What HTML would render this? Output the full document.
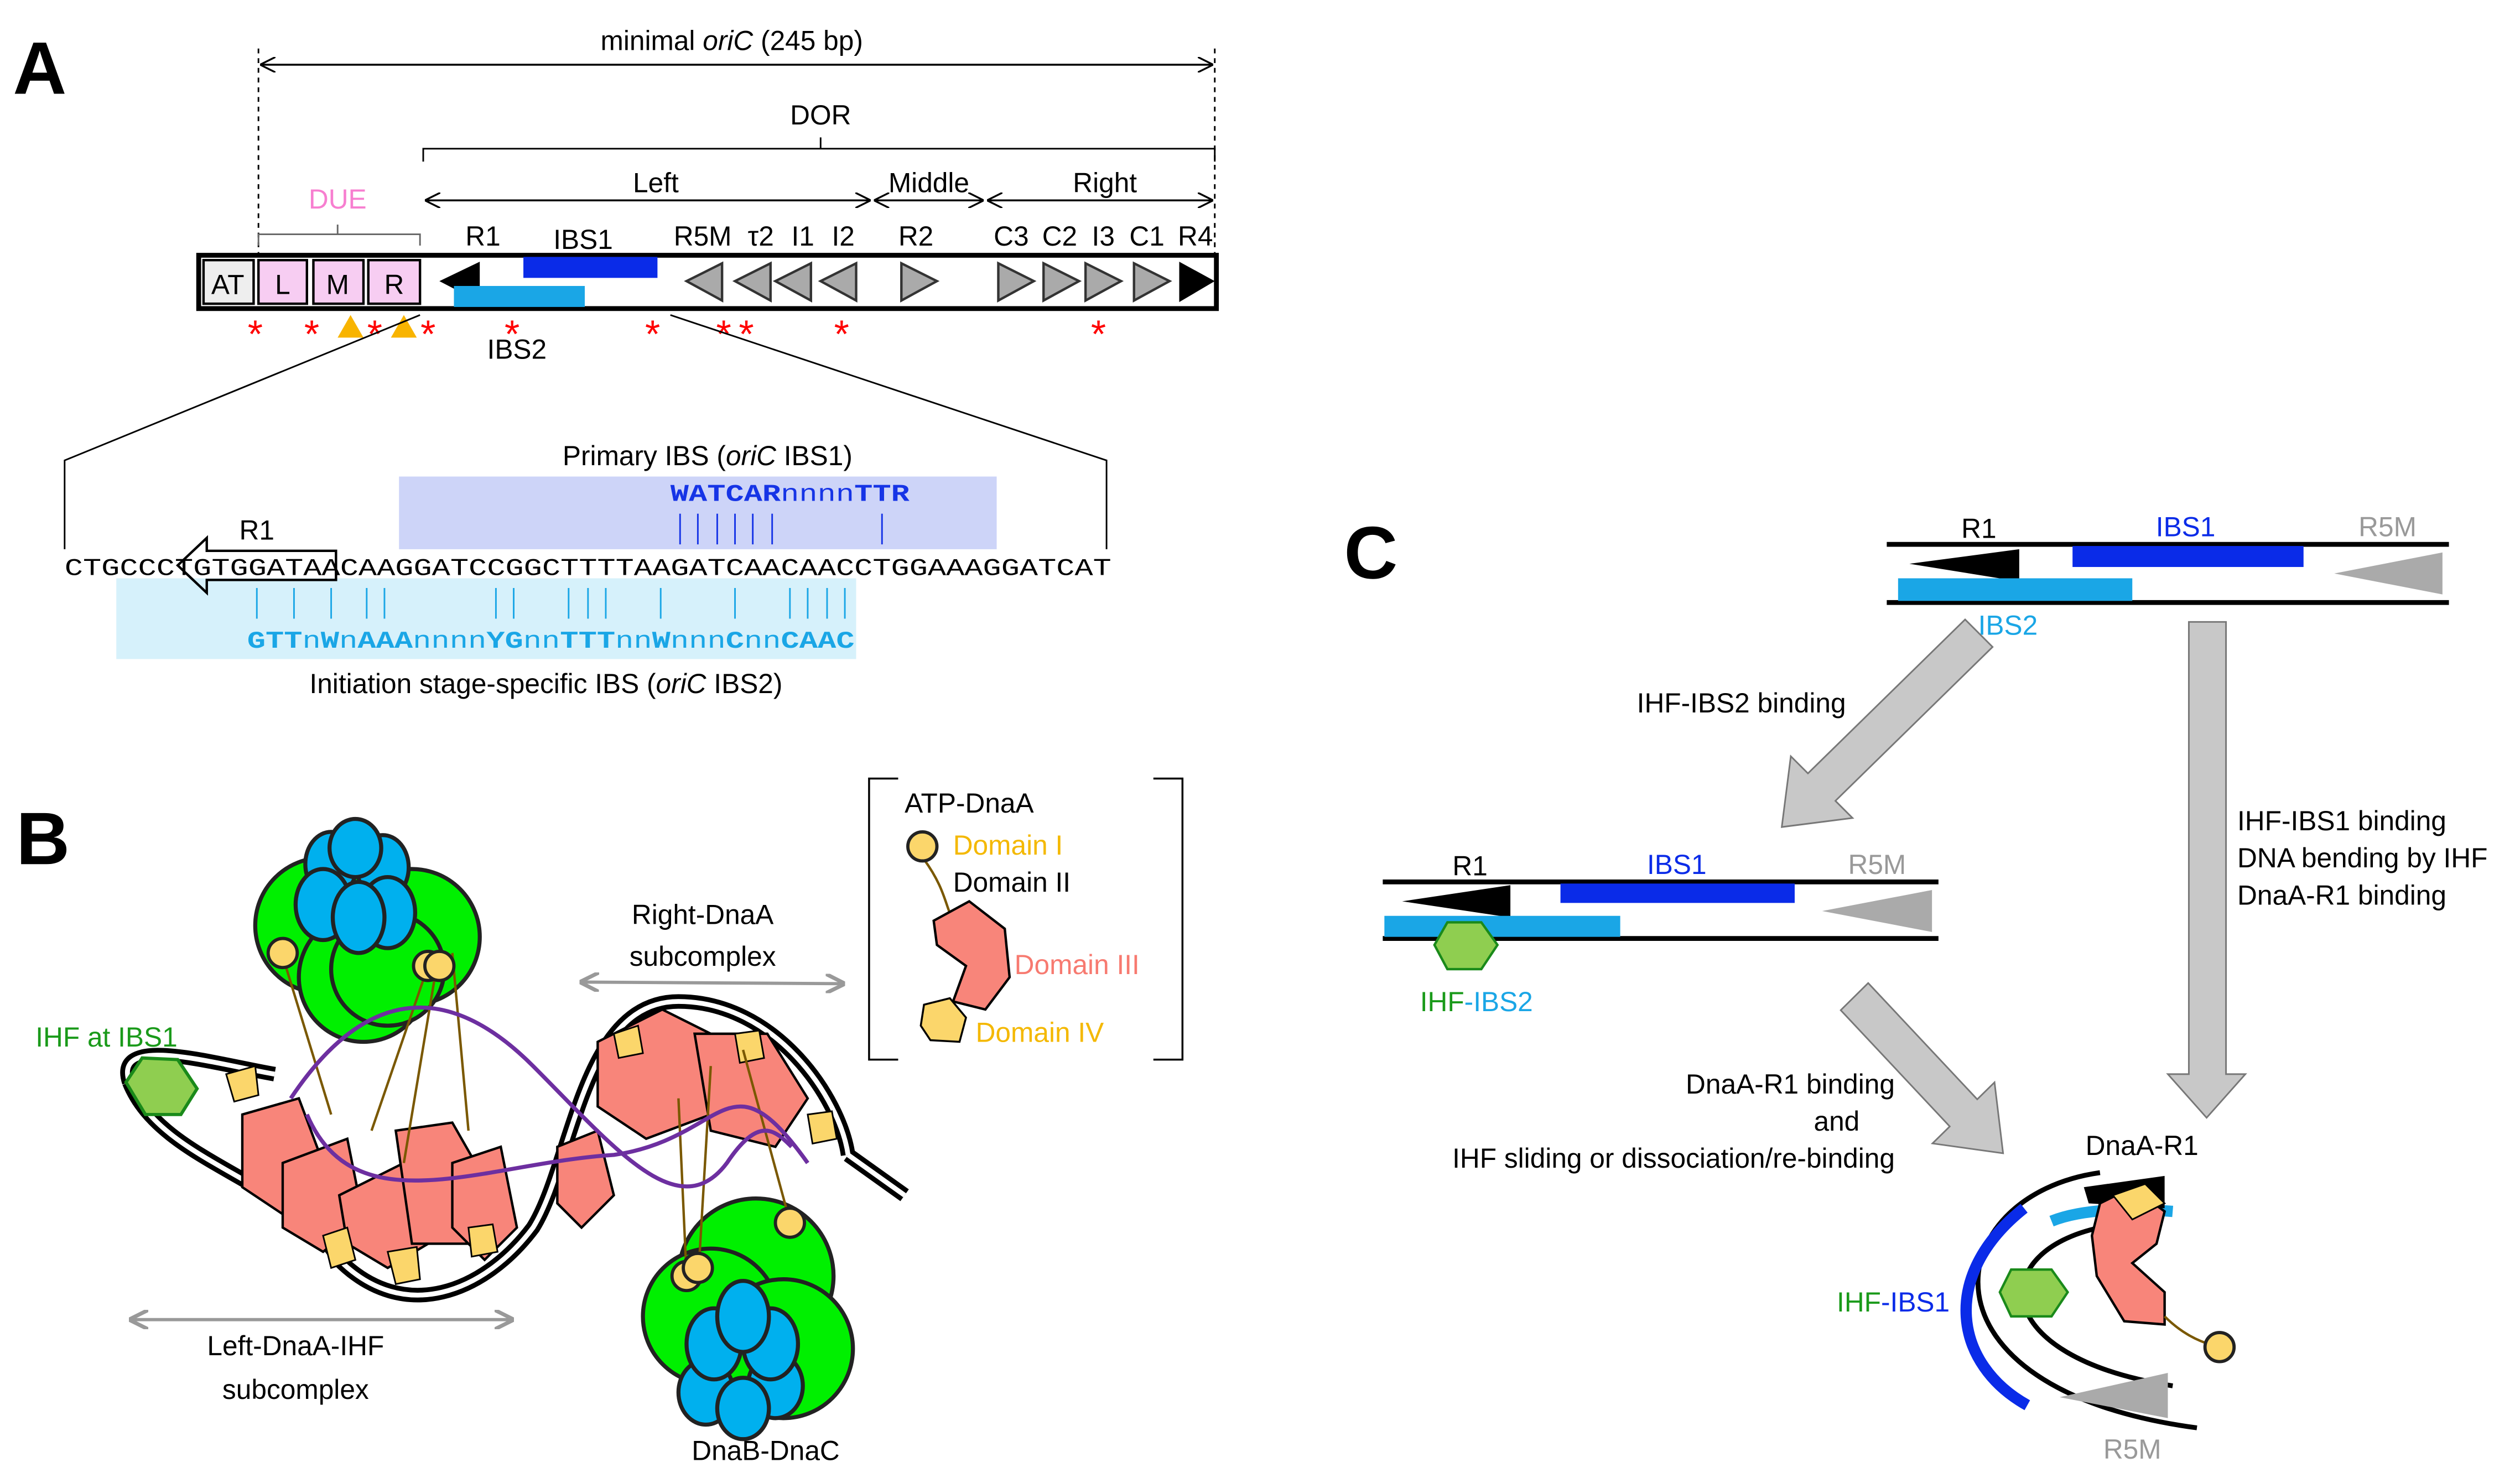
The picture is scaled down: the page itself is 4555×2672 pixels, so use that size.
<!DOCTYPE html>
<html><head><meta charset="utf-8"><style>
html,body{margin:0;padding:0;background:#fff;}
svg{display:block;}
text{font-family:"Liberation Sans",sans-serif;}
.m{font-family:"Liberation Mono",monospace;}
</style></head><body>
<svg width="4555" height="2672" viewBox="0 0 1560 915" xmlns="http://www.w3.org/2000/svg">
<defs>
<marker id="ah" viewBox="0 0 10 10" refX="10" refY="5" markerWidth="8" markerHeight="8" orient="auto-start-reverse"><path d="M0,0 L10,5 L0,10" fill="none" stroke="#000" stroke-width="1.2"/></marker>
<marker id="gh" viewBox="0 0 10 10" refX="9" refY="5" markerWidth="6" markerHeight="6" orient="auto-start-reverse"><path d="M0,0 L10,5 L0,10" fill="none" stroke="#999" stroke-width="2"/></marker>
</defs>
<rect width="1560" height="915" fill="#fff"/>
<!-- Panel A -->
<text x="8" y="58" font-size="46" font-weight="bold">A</text>
<text x="453" y="31" font-size="17" text-anchor="middle">minimal <tspan font-style="italic">oriC</tspan> (245 bp)</text>
<line x1="161" y1="40" x2="751" y2="40" stroke="#000" stroke-width="1.2" marker-start="url(#ah)" marker-end="url(#ah)"/>
<line x1="160" y1="30" x2="160" y2="158" stroke="#000" stroke-dasharray="3,3"/>
<line x1="752" y1="30" x2="752" y2="158" stroke="#000" stroke-dasharray="3,3"/>
<text x="508" y="77" font-size="17" text-anchor="middle">DOR</text>
<path d="M262,100 V92 H752 V100 M508,92 V85" fill="none" stroke="#000" stroke-width="1"/>
<line x1="263" y1="124" x2="539" y2="124" stroke="#000" stroke-width="1.2" marker-start="url(#ah)" marker-end="url(#ah)"/>
<line x1="541" y1="124" x2="609" y2="124" stroke="#000" stroke-width="1.2" marker-start="url(#ah)" marker-end="url(#ah)"/>
<line x1="611" y1="124" x2="751" y2="124" stroke="#000" stroke-width="1.2" marker-start="url(#ah)" marker-end="url(#ah)"/>
<text x="406" y="119" font-size="17" text-anchor="middle">Left</text>
<text x="575" y="119" font-size="17" text-anchor="middle">Middle</text>
<text x="684" y="119" font-size="17" text-anchor="middle">Right</text>
<text x="209" y="129" font-size="17" text-anchor="middle" fill="#f77fd0">DUE</text>
<path d="M160,152 V145 H260 V152 M209,145 V139" fill="none" stroke="#666" stroke-width="1"/>
<rect x="123" y="158" width="630" height="33" fill="#fff" stroke="#000" stroke-width="3"/>
<rect x="126" y="161" width="31" height="27" fill="#eee" stroke="#000" stroke-width="1.5"/>
<rect x="160" y="161" width="30" height="27" fill="#f7cdf2" stroke="#000" stroke-width="1.5"/>
<rect x="194" y="161" width="31" height="27" fill="#f7cdf2" stroke="#000" stroke-width="1.5"/>
<rect x="228" y="161" width="32" height="27" fill="#f7cdf2" stroke="#000" stroke-width="1.5"/>
<g font-size="17" text-anchor="middle"><text x="141" y="182">AT</text><text x="175" y="182">L</text><text x="209" y="182">M</text><text x="244" y="182">R</text></g>
<polygon points="272,174 297,162 297,187" fill="#000"/>
<rect x="324" y="159" width="83" height="13" fill="#0a2be8"/>
<rect x="281" y="177" width="81" height="13" fill="#1aa6e6"/>
<g fill="#aaa" stroke="#333" stroke-width="1.5">
<polygon points="425,174 447,163 447,186"/><polygon points="455,174 477,163 477,186"/><polygon points="480,174 502,163 502,186"/><polygon points="508,174 530,163 530,186"/>
<polygon points="580,174 558,163 558,186"/><polygon points="640,174 618,163 618,186"/><polygon points="668,174 646,163 646,186"/><polygon points="694,174 672,163 672,186"/><polygon points="724,174 702,163 702,186"/>
</g>
<polygon points="752,174 730,162 730,187" fill="#000"/>
<g font-size="17" text-anchor="middle"><text x="299" y="152">R1</text><text x="361" y="154">IBS1</text><text x="435" y="152">R5M</text><text x="471" y="152">τ2</text><text x="497" y="152">I1</text><text x="522" y="152">I2</text><text x="567" y="152">R2</text><text x="626" y="152">C3</text><text x="656" y="152">C2</text><text x="683" y="152">I3</text><text x="710" y="152">C1</text><text x="740" y="152">R4</text></g>
<g fill="#f00" font-size="24" text-anchor="middle"><text x="158" y="215">*</text><text x="193" y="215">*</text><text x="232" y="215">*</text><text x="265" y="215">*</text><text x="317" y="215">*</text><text x="404" y="215">*</text><text x="448" y="215">*</text><text x="462" y="215">*</text><text x="521" y="215">*</text><text x="680" y="215">*</text></g>
<polygon points="217,195 209,209 225,209" fill="#f8b400"/><polygon points="250,195 242,209 258,209" fill="#f8b400"/>
<text x="320" y="222" font-size="17" text-anchor="middle">IBS2</text>
<polyline points="260,195 40,285 40,340" fill="none" stroke="#000"/>
<polyline points="415,195 685,285 685,340" fill="none" stroke="#000"/>
<rect x="247" y="295" width="370" height="45" fill="#cdd4f8"/>
<rect x="72" y="358" width="458" height="50" fill="#d6f1fb"/>
<text x="438" y="288" font-size="17" text-anchor="middle">Primary IBS (<tspan font-style="italic">oriC</tspan> IBS1)</text>
<text x="415" y="310" class="m" font-size="15" font-weight="bold" fill="#1634e6" textLength="148" lengthAdjust="spacingAndGlyphs">WATCAR<tspan font-weight="normal">nnnn</tspan>TTR</text>
<g stroke="#1634e6" stroke-width="1"><line x1="421" y1="318" x2="421" y2="337"/><line x1="432" y1="318" x2="432" y2="337"/><line x1="444" y1="318" x2="444" y2="337"/><line x1="455" y1="318" x2="455" y2="337"/><line x1="466" y1="318" x2="466" y2="337"/><line x1="478" y1="318" x2="478" y2="337"/><line x1="546" y1="318" x2="546" y2="337"/></g>
<text x="40" y="356" class="m" font-size="15" textLength="648" lengthAdjust="spacingAndGlyphs">CTGCCCTGTGGATAACAAGGATCCGGCTTTTAAGATCAACAACCTGGAAAGGATCAT</text>
<polygon points="110,350 128,333 128,341 208,341 208,359 128,359 128,367" fill="none" stroke="#000" stroke-width="1.5"/>
<text x="159" y="334" font-size="17" text-anchor="middle">R1</text>
<g stroke="#1aa6e6" stroke-width="1"><line x1="159" y1="364" x2="159" y2="383"/><line x1="182" y1="364" x2="182" y2="383"/><line x1="205" y1="364" x2="205" y2="383"/><line x1="227" y1="364" x2="227" y2="383"/><line x1="238" y1="364" x2="238" y2="383"/><line x1="307" y1="364" x2="307" y2="383"/><line x1="318" y1="364" x2="318" y2="383"/><line x1="352" y1="364" x2="352" y2="383"/><line x1="364" y1="364" x2="364" y2="383"/><line x1="375" y1="364" x2="375" y2="383"/><line x1="409" y1="364" x2="409" y2="383"/><line x1="455" y1="364" x2="455" y2="383"/><line x1="489" y1="364" x2="489" y2="383"/><line x1="500" y1="364" x2="500" y2="383"/><line x1="512" y1="364" x2="512" y2="383"/><line x1="523" y1="364" x2="523" y2="383"/></g>
<text x="153" y="401" class="m" font-size="15" font-weight="bold" fill="#1aa6e6" textLength="376" lengthAdjust="spacingAndGlyphs">GTT<tspan font-weight="normal">n</tspan>W<tspan font-weight="normal">n</tspan>AAA<tspan font-weight="normal">nnnn</tspan>YG<tspan font-weight="normal">nn</tspan>TTT<tspan font-weight="normal">nn</tspan>W<tspan font-weight="normal">nnn</tspan>C<tspan font-weight="normal">nn</tspan>CAAC</text>
<text x="338" y="429" font-size="17" text-anchor="middle">Initiation stage-specific IBS (<tspan font-style="italic">oriC</tspan> IBS2)</text>
<!-- Panel B -->
<text x="10" y="535" font-size="46" font-weight="bold">B</text>
<g stroke="#222" stroke-width="2.5">
<circle cx="200" cy="573" r="42" fill="#00f000"/><circle cx="255" cy="580" r="42" fill="#00f000"/><circle cx="225" cy="605" r="40" fill="#00f000"/><circle cx="240" cy="600" r="35" fill="#00f000"/>
<ellipse cx="205" cy="535" rx="16" ry="20" fill="#00b0ee"/><ellipse cx="237" cy="537" rx="16" ry="20" fill="#00b0ee"/><ellipse cx="220" cy="525" rx="16" ry="18" fill="#00b0ee"/><ellipse cx="200" cy="560" rx="17" ry="22" fill="#00b0ee"/><ellipse cx="240" cy="565" rx="17" ry="22" fill="#00b0ee"/><ellipse cx="222" cy="568" rx="16" ry="22" fill="#00b0ee"/>
<circle cx="468" cy="790" r="48" fill="#00f000"/><circle cx="440" cy="815" r="42" fill="#00f000"/><circle cx="485" cy="835" r="43" fill="#00f000"/>
<ellipse cx="437" cy="862" rx="17" ry="20" fill="#00b0ee"/><ellipse cx="480" cy="858" rx="17" ry="20" fill="#00b0ee"/><ellipse cx="460" cy="872" rx="16" ry="19" fill="#00b0ee"/><ellipse cx="442" cy="832" rx="17" ry="22" fill="#00b0ee"/><ellipse cx="477" cy="832" rx="17" ry="22" fill="#00b0ee"/><ellipse cx="460" cy="815" rx="16" ry="22" fill="#00b0ee"/>
</g>
<path d="M80,670 C70,640 130,658 170,665 M80,670 C100,720 180,730 210,780 C250,820 300,800 330,760 C355,720 360,620 420,620 C480,620 520,680 525,715 M525,715 L560,740" fill="none" stroke="#000" stroke-width="9"/>
<path d="M80,670 C70,640 130,658 170,665 M80,670 C100,720 180,730 210,780 C250,820 300,800 330,760 C355,720 360,620 420,620 C480,620 520,680 525,715 M525,715 L560,740" fill="none" stroke="#fff" stroke-width="3"/>
<polygon points="78,670 88,655 110,656 122,674 112,690 90,690" fill="#8fce50" stroke="#1a8a1a" stroke-width="2"/>
<g fill="#f8857a" stroke="#000" stroke-width="1.5">
<polygon points="150,690 185,680 200,720 180,755 150,735"/><polygon points="175,720 215,705 225,755 200,775 175,760"/><polygon points="210,740 250,720 265,770 240,785 215,770"/><polygon points="245,700 280,695 300,730 290,770 255,770"/><polygon points="280,720 310,710 320,760 300,780 280,760"/>
<polygon points="370,645 410,625 440,640 440,690 400,705 370,685"/><polygon points="430,640 475,640 500,680 480,710 440,700"/><polygon points="345,710 370,700 380,740 360,760 345,745"/>
</g>
<g fill="#fbd66b" stroke="#000" stroke-width="1"><polygon points="140,665 158,660 160,678 145,682"/><polygon points="200,765 215,760 220,780 205,785"/><polygon points="240,775 258,772 260,792 245,795"/><polygon points="290,760 305,758 308,775 292,778"/><polygon points="380,640 395,635 398,652 383,655"/><polygon points="455,640 470,638 473,655 458,658"/><polygon points="500,690 515,688 518,705 503,708"/></g>
<g stroke="#7a5800" stroke-width="1.5" fill="none"><path d="M175,592 L205,690"/><path d="M270,600 L250,720"/><path d="M265,598 L230,700"/><path d="M280,590 L290,700"/><path d="M425,790 L420,680"/><path d="M432,795 L440,660"/><path d="M490,760 L460,650"/></g>
<path d="M190,690 C220,760 300,720 380,715 C450,705 450,650 500,720" fill="none" stroke="#6d2fa0" stroke-width="2.5"/>
<path d="M180,680 C220,620 270,600 330,660 C380,710 420,760 450,720 C470,690 480,700 490,710" fill="none" stroke="#6d2fa0" stroke-width="2.5"/>
<g fill="#fbd66b" stroke="#222" stroke-width="2"><circle cx="175" cy="590" r="9"/><circle cx="265" cy="598" r="9"/><circle cx="272" cy="598" r="9"/><circle cx="425" cy="790" r="9"/><circle cx="432" cy="785" r="9"/><circle cx="489" cy="757" r="9"/></g>
<text x="22" y="648" font-size="17" fill="#1a9a1a">IHF at IBS1</text>
<text x="435" y="572" font-size="17" text-anchor="middle">Right-DnaA</text><text x="435" y="598" font-size="17" text-anchor="middle">subcomplex</text>
<line x1="360" y1="608" x2="522" y2="609" stroke="#999" stroke-width="2" marker-start="url(#gh)" marker-end="url(#gh)"/>
<line x1="81" y1="817" x2="317" y2="817" stroke="#999" stroke-width="2" marker-start="url(#gh)" marker-end="url(#gh)"/>
<text x="183" y="839" font-size="17" text-anchor="middle">Left-DnaA-IHF</text><text x="183" y="866" font-size="17" text-anchor="middle">subcomplex</text>
<text x="474" y="904" font-size="17" text-anchor="middle">DnaB-DnaC</text>
<path d="M556,482 H538 V656 H556 M714,482 H732 V656 H714" fill="none" stroke="#000" stroke-width="1.2"/>
<text x="560" y="503" font-size="17">ATP-DnaA</text>
<text x="590" y="529" font-size="17" fill="#f4b800">Domain I</text>
<text x="590" y="552" font-size="17">Domain II</text>
<text x="628" y="603" font-size="17" fill="#f77a70">Domain III</text>
<text x="604" y="645" font-size="17" fill="#f4b800">Domain IV</text>
<path d="M572,532 C585,550 585,560 590,570" fill="none" stroke="#7a5800" stroke-width="1.5"/>
<circle cx="571" cy="524" r="9" fill="#fbd66b" stroke="#222" stroke-width="2"/>
<polygon points="578,570 600,558 622,575 625,605 610,625 590,620 598,598 580,585" fill="#f8857a" stroke="#000" stroke-width="1.5"/>
<polygon points="572,622 588,618 598,630 594,645 576,644 570,635" fill="#fbd66b" stroke="#000" stroke-width="1.2"/>
<!-- Panel C -->
<text x="832" y="358" font-size="46" font-weight="bold">C</text>
<line x1="1168" y1="337" x2="1516" y2="337" stroke="#000" stroke-width="3"/><line x1="1168" y1="373" x2="1516" y2="373" stroke="#000" stroke-width="3"/>
<polygon points="1182,349 1250,340 1250,360" fill="#000"/>
<rect x="1283" y="338" width="143" height="13" fill="#0a2be8"/>
<rect x="1175" y="358" width="145" height="14" fill="#1aa6e6"/>
<polygon points="1445,355 1512,342 1512,368" fill="#aaa"/>
<text x="1225" y="333" font-size="17" text-anchor="middle">R1</text><text x="1353" y="332" font-size="17" text-anchor="middle" fill="#0a2be8">IBS1</text><text x="1478" y="332" font-size="17" text-anchor="middle" fill="#999">R5M</text>
<text x="1243" y="393" font-size="17" text-anchor="middle" fill="#1aa6e6">IBS2</text>
<polygon points="1216.5,383.5 1119.2,478.8 1108.6,468.2 1103,512 1146.8,506.4 1136.2,495.8 1233.5,400.5" fill="#c8c8c8" stroke="#777" stroke-width="1"/>
<polygon points="1355,385 1378,385 1378,665 1390,665 1366,692 1342,665 1355,665" fill="#c8c8c8" stroke="#777" stroke-width="1"/>
<text x="1078" y="441" font-size="17" text-anchor="middle">IHF-IBS2 binding</text>
<text x="1385" y="514" font-size="17">IHF-IBS1 binding</text><text x="1385" y="537" font-size="17">DNA bending by IHF</text><text x="1385" y="560" font-size="17">DnaA-R1 binding</text>
<line x1="856" y1="546" x2="1200" y2="546" stroke="#000" stroke-width="3"/><line x1="856" y1="581" x2="1200" y2="581" stroke="#000" stroke-width="3"/>
<polygon points="868,558 935,548 935,568" fill="#000"/>
<rect x="966" y="547" width="145" height="12" fill="#0a2be8"/>
<rect x="857" y="567" width="146" height="13" fill="#1aa6e6"/>
<polygon points="1128,564 1196,551 1196,577" fill="#aaa"/>
<polygon points="888,585 896,571 917,571 927,585 917,600 896,600" fill="#8fce50" stroke="#1a8a1a" stroke-width="1.5"/>
<text x="910" y="542" font-size="17" text-anchor="middle">R1</text><text x="1038" y="541" font-size="17" text-anchor="middle" fill="#0a2be8">IBS1</text><text x="1162" y="541" font-size="17" text-anchor="middle" fill="#999">R5M</text>
<text x="914" y="626" font-size="17" text-anchor="middle"><tspan fill="#1a9a1a">IHF</tspan><tspan fill="#1aa6e6">-IBS2</tspan></text>
<polygon points="1156.5,608.6 1224,680.6 1234.7,670.1 1240,714 1196.3,707.9 1207,697.4 1139.5,625.4" fill="#c8c8c8" stroke="#777" stroke-width="1"/>
<text x="1173" y="677" font-size="17" text-anchor="end">DnaA-R1 binding</text>
<text x="1137" y="700" font-size="17" text-anchor="middle">and</text>
<text x="1173" y="723" font-size="17" text-anchor="end">IHF sliding or dissociation/re-binding</text>
<text x="1326" y="715" font-size="17" text-anchor="middle">DnaA-R1</text>
<path d="M1300,726 C1200,740 1180,860 1360,884" fill="none" stroke="#000" stroke-width="3"/>
<path d="M1300,760 C1230,775 1230,840 1345,858" fill="none" stroke="#000" stroke-width="3"/>
<path d="M1253,748 C1200,790 1210,845 1255,870" fill="none" stroke="#0a2be8" stroke-width="7"/>
<path d="M1270,756 C1290,748 1320,748 1345,750" fill="none" stroke="#1aa6e6" stroke-width="7"/>
<polygon points="1290,735 1340,728 1340,748 1293,745" fill="#000"/>
<polygon points="1275,865 1342,850 1342,878" fill="#aaa"/>
<polygon points="1238,800 1245,786 1270,786 1280,800 1270,815 1245,815" fill="#8fce50" stroke="#1a8a1a" stroke-width="1.5"/>
<polygon points="1300,745 1320,735 1340,750 1335,770 1320,782 1340,800 1340,820 1315,818 1298,790 1295,765" fill="#f8857a" stroke="#000" stroke-width="1.5"/>
<polygon points="1308,740 1328,733 1340,745 1320,755" fill="#fbd66b" stroke="#000" stroke-width="1"/>
<path d="M1340,815 C1350,825 1360,830 1370,833" fill="none" stroke="#7a5800" stroke-width="1.5"/>
<circle cx="1374" cy="834" r="9" fill="#fbd66b" stroke="#222" stroke-width="2"/>
<text x="1172" y="812" font-size="17" text-anchor="middle"><tspan fill="#1a9a1a">IHF</tspan><tspan fill="#0a2be8">-IBS1</tspan></text>
<text x="1320" y="903" font-size="17" text-anchor="middle" fill="#999">R5M</text>
</svg>
</body></html>
